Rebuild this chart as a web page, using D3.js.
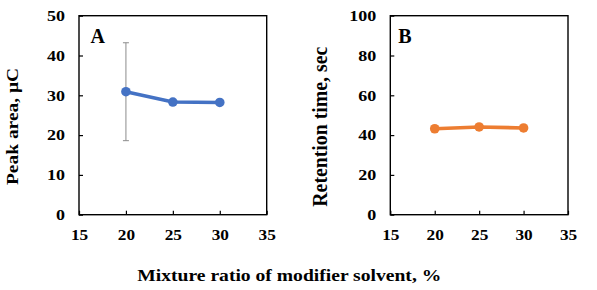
<!DOCTYPE html>
<html>
<head>
<meta charset="utf-8">
<script src="https://cdn.jsdelivr.net/npm/d3@7"></script>
<style>
  body { margin: 0; background: #fff; }
  text { font-family: "Liberation Serif", "Times New Roman", serif; font-weight: bold; fill: #000; }
</style>
</head>
<body>
<svg id="chart" width="597" height="290"></svg>
<script>
// mixture ratio of modifier solvent (%)
const ratios = [20, 25, 30];
// panel A: peak area (µC), error shown only at 20%
const peakArea = [30.9, 28.3, 28.2];
const peakAreaErr = [12.3, 0, 0];
// panel B: retention time (sec)
const retention = [43.2, 44.1, 43.6];

const xTicks = [15, 20, 25, 30, 35];
const yTicksA = [0, 10, 20, 30, 40, 50];
const yTicksB = [0, 20, 40, 60, 80, 100];

const svg = d3.select("#chart");
const plotTop = 15.7, plotBottom = 214.7;

// the source figure's lettering is wider than Liberation Serif, so stretch it
function widen(sel, k) {
  sel.each(function() {
    const len = this.getComputedTextLength();
    d3.select(this).attr("textLength", len * k).attr("lengthAdjust", "spacingAndGlyphs");
  });
}

function panel(opts) {
  const x = d3.scaleLinear().domain([15, 35]).range([opts.left, opts.right]);
  const y = d3.scaleLinear().domain([0, opts.yMax]).range([plotBottom, plotTop]);
  const g = svg.append("g");

  // ticks point inward
  const xAxis = g.append("g").attr("transform", `translate(0,${plotBottom})`)
    .call(d3.axisBottom(x).tickValues(xTicks).tickSizeInner(-4).tickSizeOuter(0).tickPadding(15));
  const yAxis = g.append("g").attr("transform", `translate(${opts.left},0)`)
    .call(d3.axisLeft(y).tickValues(opts.yTicks).tickSizeInner(-4).tickSizeOuter(0).tickPadding(14));
  [xAxis, yAxis].forEach(a => {
    a.select(".domain").remove();
    a.selectAll("line").attr("stroke", "#000").attr("stroke-width", 1.2);
    a.selectAll("text").style("font-size", "15px")
      .style("font-family", "'Liberation Serif', serif").style("font-weight", "bold");
  });
  xAxis.selectAll("text").attr("dy", null).attr("y", 25.5);
  widen(xAxis.selectAll("text"), 1.15);
  widen(yAxis.selectAll("text"), 1.2);

  // frame
  g.append("rect")
    .attr("x", opts.left).attr("y", plotTop)
    .attr("width", opts.right - opts.left).attr("height", plotBottom - plotTop)
    .attr("fill", "none").attr("stroke", "#000").attr("stroke-width", 1.4);

  // error bars
  if (opts.err) {
    opts.values.forEach((v, i) => {
      if (!opts.err[i]) return;
      const cx = x(ratios[i]);
      const eg = g.append("g").attr("stroke", "#8c8c8c").attr("stroke-width", 1);
      eg.append("line").attr("x1", cx).attr("x2", cx)
        .attr("y1", y(v + opts.err[i])).attr("y2", y(v - opts.err[i]));
      [v + opts.err[i], v - opts.err[i]].forEach(e => {
        eg.append("line").attr("x1", cx - 3).attr("x2", cx + 3)
          .attr("y1", y(e)).attr("y2", y(e));
      });
    });
  }

  const line = d3.line().x((d, i) => x(ratios[i])).y(d => y(d));
  g.append("path").datum(opts.values)
    .attr("d", line).attr("fill", "none")
    .attr("stroke", opts.color).attr("stroke-width", 3.6);
  g.selectAll("circle.pt").data(opts.values).enter().append("circle")
    .attr("class", "pt")
    .attr("cx", (d, i) => x(ratios[i])).attr("cy", d => y(d))
    .attr("r", 4.8).attr("fill", opts.color);

  // panel letter
  g.append("text").attr("x", opts.left + opts.letterDx).attr("y", 42.7)
    .style("font-size", "20px").text(opts.letter);

  // y title
  g.append("text")
    .attr("transform", `translate(${opts.titleX},${opts.titleY}) rotate(-90)`)
    .attr("text-anchor", "middle")
    .attr("textLength", opts.titleLen).attr("lengthAdjust", "spacingAndGlyphs")
    .style("font-size", opts.titleSize + "px").text(opts.title);
}

panel({
  left: 79, right: 266.7, yMax: 50, yTicks: yTicksA,
  values: peakArea, err: peakAreaErr, color: "#4472c4",
  letter: "A", letterDx: 11.5,
  title: "Peak area, \u03bcC", titleX: 17.5, titleY: 126.5, titleLen: 117, titleSize: 16
});
panel({
  left: 390.3, right: 568, yMax: 100, yTicks: yTicksB,
  values: retention, color: "#ed7d31",
  letter: "B", letterDx: 8,
  title: "Retention time, sec", titleX: 326.5, titleY: 126.7, titleLen: 160, titleSize: 20
});

svg.append("text").attr("x", 289.3).attr("y", 281)
  .attr("text-anchor", "middle").style("font-size", "16.5px")
  .attr("textLength", 304).attr("lengthAdjust", "spacingAndGlyphs")
  .text("Mixture ratio of modifier solvent, %");
</script>
</body>
</html>
